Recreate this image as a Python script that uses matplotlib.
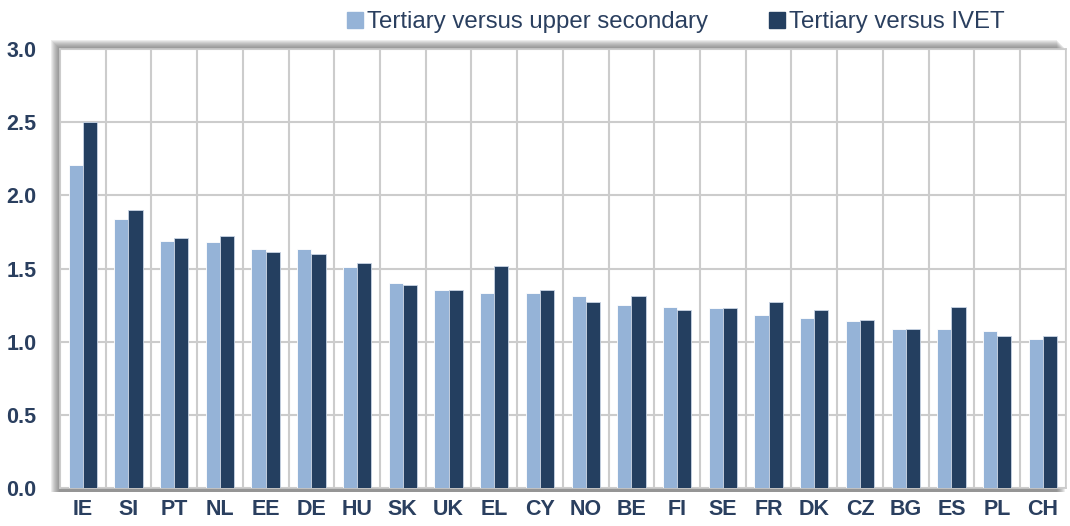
import numpy as np
import matplotlib.pyplot as plt
from matplotlib.patches import Rectangle

countries = ["IE", "SI", "PT", "NL", "EE", "DE", "HU", "SK", "UK", "EL", "CY",
             "NO", "BE", "FI", "SE", "FR", "DK", "CZ", "BG", "ES", "PL", "CH"]
upper_secondary = [2.21, 1.84, 1.69, 1.68, 1.63, 1.63, 1.51, 1.40, 1.35, 1.33, 1.33,
                   1.31, 1.25, 1.24, 1.23, 1.18, 1.16, 1.14, 1.09, 1.09, 1.07, 1.02]
ivet = [2.50, 1.90, 1.71, 1.72, 1.61, 1.60, 1.54, 1.39, 1.35, 1.52, 1.35,
        1.27, 1.31, 1.22, 1.23, 1.27, 1.22, 1.15, 1.09, 1.24, 1.04, 1.04]
y_ticks = [0.0, 0.5, 1.0, 1.5, 2.0, 2.5, 3.0]

light = "#95b3d7"
dark = "#243f60"
text_col = "#2a3f5f"

plt.rcParams['font.family'] = ['Liberation Sans', 'DejaVu Sans']

W, H = 1070, 526
fig = plt.figure(figsize=(W / 100, H / 100), dpi=100)
l, b, w, h = 0.056, 0.072, 0.940, 0.835
ax = fig.add_axes([l, b, w, h], zorder=2)

# soft shadow up-left of the plot area (pixel offsets)
n = 9
for i in range(n):
    off = (n - i) * 1.0
    fig.patches.append(Rectangle((l - off / W, b - 4 / H), w, h + (off + 4) / H,
                                 transform=fig.transFigure, facecolor="#606060",
                                 alpha=0.11, zorder=-1, edgecolor="none"))

x = np.arange(len(countries))
bw = 0.31
ax.bar(x - bw / 2, upper_secondary, bw, color=light, edgecolor="white",
       linewidth=0.6, label="Tertiary versus upper secondary", zorder=3)
ax.bar(x + bw / 2, ivet, bw, color=dark, edgecolor="#c8d4e4",
       linewidth=0.6, label="Tertiary versus IVET", zorder=3)

ax.set_facecolor("white")
ax.set_xlim(-0.5, len(countries) - 0.5)
ax.set_ylim(0, 3.0)
ax.set_yticks(y_ticks)
ax.set_yticklabels([f"{v:.1f}" for v in y_ticks])
ax.set_xticks(x)
ax.set_xticklabels(countries)
ax.set_xticks(np.arange(len(countries) + 1) - 0.5, minor=True)
ax.grid(axis="y", color="#cccccc", linewidth=1.5, zorder=0)
ax.grid(axis="x", which="minor", color="#cccccc", linewidth=1.5, zorder=0)
ax.tick_params(axis="both", which="both", length=0)
ax.tick_params(axis="y", pad=17)
ax.tick_params(axis="x", pad=8)
for lab in ax.get_xticklabels() + ax.get_yticklabels():
    lab.set_fontsize(15.5)
    lab.set_fontweight("bold")
    lab.set_color(text_col)
for s in ax.spines.values():
    s.set_color("#cccccc")
    s.set_linewidth(1.2)

handles = [plt.Line2D([], [], marker="s", linestyle="none", markersize=11, color=light),
           plt.Line2D([], [], marker="s", linestyle="none", markersize=11, color=dark)]
leg = fig.legend(handles, ["Tertiary versus upper secondary", "Tertiary versus IVET"],
                 loc="upper left", bbox_to_anchor=(0.304, 1.02), ncol=2, frameon=False,
                 fontsize=17.3, handlelength=0.7, handletextpad=0.15, columnspacing=2.5)
for t in leg.get_texts():
    t.set_color(text_col)

fig.savefig("out.png", dpi=100)
